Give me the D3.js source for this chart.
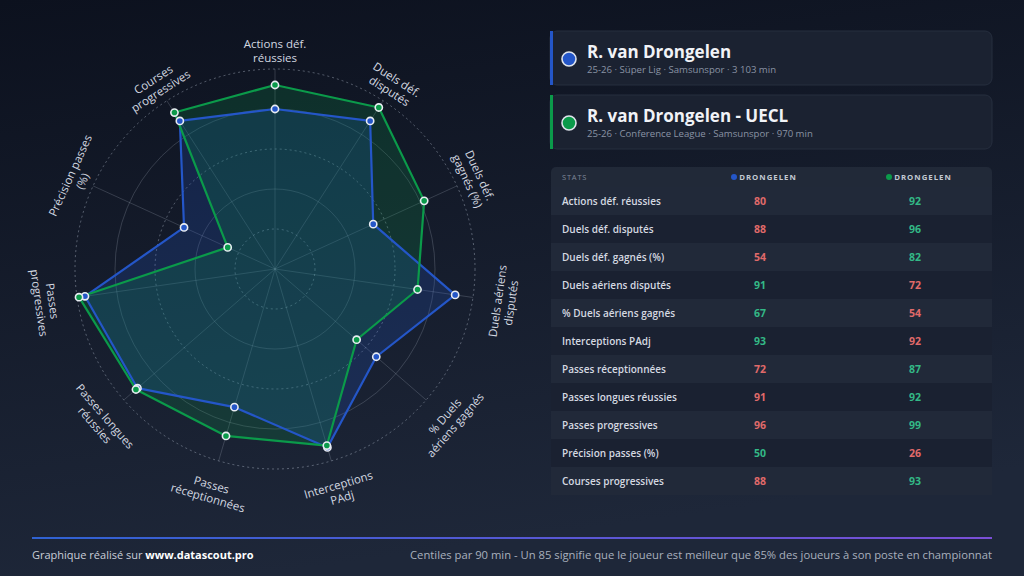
<!DOCTYPE html>
<html><head><meta charset="utf-8">
<script src="https://cdn.jsdelivr.net/npm/d3@7"></script>
<style>
html,body{margin:0;padding:0;background:#121a2a;}
svg{display:block;font-family:"Open Sans","Noto Sans",sans-serif;}
</style></head>
<body>
<svg id="c" width="1024" height="576"></svg>
<script>
const categories = ["Actions déf. réussies","Duels déf. disputés","Duels déf. gagnés (%)","Duels aériens disputés","% Duels aériens gagnés","Interceptions PAdj","Passes réceptionnées","Passes longues réussies","Passes progressives","Précision passes (%)","Courses progressives"];
const axisLabels = [["Actions déf.","réussies"],["Duels déf.","disputés"],["Duels déf.","gagnés (%)"],["Duels aériens","disputés"],["% Duels","aériens gagnés"],["Interceptions","PAdj"],["Passes","réceptionnées"],["Passes longues","réussies"],["Passes","progressives"],["Précision passes","(%)"],["Courses","progressives"]];
const seriesLeague = [80,88,54,91,67,93,72,91,96,50,88];
const seriesUECL = [92,96,82,72,54,92,87,92,99,26,93];
const seriesNames = ["R. van Drongelen","R. van Drongelen - UECL"];
const seriesSubs = ["25-26 · Süper Lig · Samsunspor · 3 103 min","25-26 · Conference League · Samsunspor · 970 min"];
const seriesShort = ["DRONGELEN","DRONGELEN"];
const ringTicks = [20,40,60,80,100];
const footLeft = "Graphique réalisé sur ";
const footLink = "www.datascout.pro";
const footRight = "Centiles par 90 min - Un 85 signifie que le joueur est meilleur que 85% des joueurs à son poste en championnat";

const colors = ["#2456c8","#0b9a4a"];
const svg = d3.select("#c");
const defs = svg.append("defs");
const bg = defs.append("linearGradient").attr("id","bg").attr("x1",0).attr("y1",0).attr("x2",0.25).attr("y2",1);
bg.append("stop").attr("offset","0%").attr("stop-color","#0c111e");
bg.append("stop").attr("offset","100%").attr("stop-color","#1e2739");
svg.append("rect").attr("width",1024).attr("height",576).attr("fill","url(#bg)");

// ---------- Radar ----------
const cx = 275, cy = 269, R = 200;
const rScale = d3.scaleLinear().domain([0,100]).range([0,R]);
const n = categories.length;
const angle = d3.scaleLinear().domain([0,n]).range([0,2*Math.PI]);
const g = svg.append("g").attr("transform",`translate(${cx},${cy})`);

ringTicks.forEach((t,i)=>{
  g.append("circle").attr("r",rScale(t)).attr("fill","none")
   .attr("stroke", i%2===0 ? "rgba(200,210,225,0.38)" : "rgba(200,210,225,0.2)")
   .attr("stroke-width",1)
   .attr("stroke-dasharray", i%2===0 ? "2,3" : null);
});
categories.forEach((c,i)=>{
  const a = angle(i);
  g.append("line").attr("x1",0).attr("y1",0)
   .attr("x2",rScale(100)*Math.sin(a)).attr("y2",-rScale(100)*Math.cos(a))
   .attr("stroke","rgba(200,210,225,0.2)").attr("stroke-width",1);
});

const radial = d3.lineRadial().angle((d,i)=>angle(i)).radius(d=>rScale(d)).curve(d3.curveLinearClosed);
const series = [seriesLeague, seriesUECL];
const fills = ["rgba(36,86,200,0.22)","rgba(11,154,74,0.2)"];
series.forEach((s,k)=>{
  g.append("path").attr("d",radial(s)).attr("fill",fills[k]).attr("stroke","none");
});
series.forEach((s,k)=>{
  g.append("path").attr("d",radial(s)).attr("fill","none").attr("stroke",colors[k]).attr("stroke-width",2.2).attr("stroke-linejoin","round");
});
series.forEach((s,k)=>{
  g.selectAll(null).data(s).enter().append("circle")
   .attr("cx",(d,i)=>rScale(d)*Math.sin(angle(i)))
   .attr("cy",(d,i)=>-rScale(d)*Math.cos(angle(i)))
   .attr("r",3.6).attr("fill",colors[k]).attr("stroke","#e8ecf2").attr("stroke-width",1.6);
});

const labR = 225;
axisLabels.forEach((lines,i)=>{
  const a = angle(i);
  const deg = a*180/Math.PI;
  const x = labR*Math.sin(a), y = -labR*Math.cos(a);
  let rot = deg;
  if (deg>90 && deg<270) rot = deg-180;
  if (deg>=270) rot = deg-360;
  const t = g.append("text").attr("transform",`translate(${x},${y}) rotate(${rot})`)
   .attr("text-anchor","middle").attr("fill","#d3d8e0").attr("font-size",11.5);
  lines.forEach((l,j)=>{
    t.append("tspan").attr("x",0).attr("y",j*13.5).attr("dy","0.35em").text(l);
  });
});

// ---------- Cards ----------
[0,1].forEach(k=>{
  const y0 = k===0 ? 31 : 95;
  svg.append("rect").attr("x",550).attr("y",y0).attr("width",442).attr("height",54).attr("rx",7)
    .attr("fill","#1b2231").attr("stroke","#262e3e").attr("stroke-width",1);
  svg.append("rect").attr("x",550).attr("y",y0).attr("width",3).attr("height",54).attr("fill",colors[k]);
  svg.append("circle").attr("cx",569).attr("cy",y0+28).attr("r",7).attr("fill",colors[k]).attr("stroke","#dfe4ec").attr("stroke-width",1.6);
  svg.append("text").attr("x",587).attr("y",y0+26.5).attr("fill","#f1f3f7").attr("font-size",17).attr("font-weight",700).text(seriesNames[k]);
  svg.append("text").attr("x",587).attr("y",y0+42).attr("fill","#8a93a4").attr("font-size",9.6).attr("font-weight",500).text(seriesSubs[k]);
});

// ---------- Table ----------
const tx = 551, tw = 441, colC = [760, 915];
svg.append("path").attr("d",`M${tx},187 V172 a5,5 0 0 1 5,-5 H${tx+tw-5} a5,5 0 0 1 5,5 V187 Z`).attr("fill","#212938");
svg.append("text").attr("x",562).attr("y",177).attr("dy","0.35em").attr("fill","#7d8697").attr("font-size",7.5).attr("letter-spacing",0.8).text("STATS");
[0,1].forEach(k=>{
  svg.append("text").attr("x",colC[k]+8).attr("y",177).attr("dy","0.35em").attr("text-anchor","middle")
    .attr("fill","#c3c9d3").attr("font-size",7.8).attr("font-weight",700).attr("letter-spacing",1).text(seriesShort[k]);
  svg.append("circle").attr("cx",colC[k]-26).attr("cy",177).attr("r",3).attr("fill",colors[k]);
});
const rowH = 28;
categories.forEach((c,i)=>{
  const y = 187 + i*rowH;
  svg.append("rect").attr("x",tx).attr("y",y).attr("width",tw).attr("height",rowH)
    .attr("fill", i%2===0 ? "#212939" : "#1a2131");
  svg.append("text").attr("x",562).attr("y",y+rowH/2).attr("dy","0.35em").attr("fill","#d5d9e1").attr("font-size",10).attr("font-weight",600).text(c);
  const a = seriesLeague[i], b = seriesUECL[i];
  [a,b].forEach((v,k)=>{
    const other = k===0 ? b : a;
    svg.append("text").attr("x",colC[k]).attr("y",y+rowH/2).attr("dy","0.35em").attr("text-anchor","middle")
      .attr("fill", v>other ? "#33b886" : "#e06a6a").attr("font-size",10.5).attr("font-weight",700).text(v);
  });
});

// ---------- Footer ----------
const fg = defs.append("linearGradient").attr("id","fl").attr("x1",0).attr("x2",1);
fg.append("stop").attr("offset","0%").attr("stop-color","#2f62d2");
fg.append("stop").attr("offset","100%").attr("stop-color","#7a4fd6");
svg.append("rect").attr("x",32).attr("y",537).attr("width",960).attr("height",2).attr("fill","url(#fl)");
const fl = svg.append("text").attr("x",32).attr("y",559).attr("font-size",11).attr("fill","#c9ced8");
fl.append("tspan").text(footLeft);
fl.append("tspan").attr("font-weight",700).attr("fill","#ffffff").text(footLink);
svg.append("text").attr("x",992).attr("y",559).attr("text-anchor","end").attr("font-size",11).attr("fill","#a9b0bd")
  .attr("textLength",582).attr("lengthAdjust","spacingAndGlyphs").text(footRight);
</script>
</body></html>
